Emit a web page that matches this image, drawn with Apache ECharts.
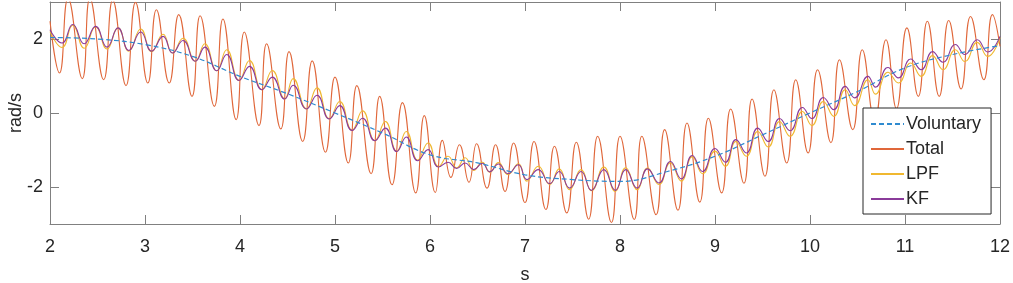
<!DOCTYPE html>
<html>
<head>
<meta charset="utf-8">
<script src="https://cdn.jsdelivr.net/npm/echarts@6/dist/echarts.min.js"></script>
<style>
html,body{margin:0;padding:0;background:#fff;}
#chart{width:1013px;height:283px;}
</style>
</head>
<body>
<div id="chart"></div>
<script>
// ---- data ----
const xTicks = [2, 3, 4, 5, 6, 7, 8, 9, 10, 11, 12];
const yTicks = [-2, 0, 2];
const seriesNames = ['Voluntary', 'Total', 'LPF', 'KF'];

const voluntary = [
  [2.0, 2.04], [2.5, 2.0], [3.0, 1.85], [3.5, 1.53], [4.0, 0.99], [4.5, 0.52],
  [5.0, 0.0], [5.5, -0.54], [6.0, -1.13], [6.5, -1.35], [7.0, -1.67], [7.5, -1.80],
  [8.0, -1.85], [8.5, -1.58], [9.0, -1.17], [9.5, -0.59], [10.0, 0.0], [10.5, 0.58],
  [11.0, 1.22], [11.5, 1.58], [12.0, 1.82]
];

const total = [
  [2.0, 2.48], [2.10, 1.08], [2.19, 3.1], [2.34, 0.93], [2.42, 3.1], [2.565, 0.90],
  [2.66, 3.05], [2.80, 0.74], [2.90, 2.99], [3.03, 0.81], [3.12, 2.79], [3.255, 0.81],
  [3.355, 2.66], [3.495, 0.45], [3.58, 2.63], [3.73, 0.18], [3.82, 2.54], [3.96, -0.18],
  [4.045, 2.19], [4.20, -0.34], [4.28, 1.87], [4.43, -0.43], [4.516, 1.66], [4.66, -0.77],
  [4.76, 1.41], [4.90, -1.06], [5.0, 0.97], [5.14, -1.35], [5.23, 0.74], [5.38, -1.64],
  [5.47, 0.45], [5.60, -1.94], [5.71, 0.28], [5.85, -2.16], [5.94, -0.07], [6.056, -2.15],
  [6.13, -0.74], [6.22, -1.74], [6.31, -0.86], [6.41, -1.87], [6.49, -0.83], [6.60, -2.03],
  [6.69, -0.86], [6.79, -2.12], [6.88, -0.81], [7.0, -2.42], [7.095, -0.77], [7.22, -2.61],
  [7.31, -0.90], [7.44, -2.70], [7.54, -0.79], [7.67, -2.87], [7.765, -0.63], [7.91, -2.96],
  [8.0, -0.63], [8.15, -2.88], [8.23, -0.63], [8.38, -2.75], [8.47, -0.45], [8.61, -2.63],
  [8.705, -0.27], [8.84, -2.41], [8.93, -0.14], [9.07, -2.16], [9.165, 0.11], [9.305, -1.90],
  [9.39, 0.38], [9.526, -1.71], [9.62, 0.63], [9.755, -1.35], [9.85, 0.90], [9.98, -1.08],
  [10.08, 1.17], [10.22, -0.80], [10.31, 1.44], [10.45, -0.45], [10.55, 1.71], [10.68, -0.20],
  [10.80, 1.98], [10.91, 0.12], [11.02, 2.30], [11.14, 0.45], [11.235, 2.48], [11.36, 0.45],
  [11.46, 2.50], [11.59, 0.65], [11.69, 2.61], [11.83, 0.90], [11.92, 2.66], [12.0, 1.80]
];

const lpf = [
  [2.0, 2.2], [2.126, 1.77], [2.24, 2.37], [2.36, 1.75], [2.48, 2.33], [2.60, 1.73],
  [2.716, 2.30], [2.83, 1.67], [2.955, 2.27], [3.07, 1.66], [3.19, 2.13], [3.29, 1.62],
  [3.40, 2.02], [3.53, 1.40], [3.63, 1.87], [3.755, 1.14], [3.86, 1.71], [3.99, 0.88],
  [4.10, 1.42], [4.23, 0.63], [4.34, 1.15], [4.47, 0.38], [4.56, 0.93], [4.70, 0.11],
  [4.81, 0.68], [4.94, -0.16], [5.05, 0.31], [5.18, -0.47], [5.29, 0.06], [5.42, -0.75],
  [5.53, -0.23], [5.65, -1.04], [5.75, -0.50], [5.87, -1.27], [5.98, -0.81], [6.09, -1.45],
  [6.19, -1.17], [6.28, -1.48], [6.37, -1.21], [6.46, -1.55], [6.55, -1.33], [6.63, -1.60],
  [6.72, -1.34], [6.82, -1.66], [6.93, -1.37], [7.02, -1.84], [7.14, -1.44], [7.26, -1.93],
  [7.36, -1.51], [7.47, -2.07], [7.59, -1.53], [7.70, -2.10], [7.83, -1.46], [7.95, -2.12],
  [8.06, -1.48], [8.18, -2.07], [8.29, -1.49], [8.41, -1.93], [8.53, -1.34], [8.645, -1.84],
  [8.76, -1.18], [8.87, -1.64], [9.00, -1.03], [9.11, -1.44], [9.22, -0.77], [9.33, -1.17],
  [9.45, -0.50], [9.56, -0.92], [9.68, -0.23], [9.79, -0.63], [9.92, 0.04], [10.02, -0.34],
  [10.14, 0.31], [10.25, -0.09], [10.37, 0.63], [10.47, 0.20], [10.61, 0.90], [10.69, 0.51],
  [10.82, 1.10], [10.93, 0.81], [11.06, 1.35], [11.17, 0.99], [11.29, 1.55], [11.40, 1.17],
  [11.53, 1.71], [11.63, 1.39], [11.76, 1.91], [11.87, 1.53], [12.0, 2.04]
];

const kf = [
  [2.0, 2.25], [2.126, 1.89], [2.24, 2.39], [2.36, 1.87], [2.48, 2.34], [2.60, 1.78],
  [2.716, 2.30], [2.83, 1.69], [2.955, 2.19], [3.07, 1.67], [3.19, 2.07], [3.29, 1.62],
  [3.40, 1.96], [3.53, 1.40], [3.63, 1.78], [3.755, 1.14], [3.86, 1.58], [3.99, 0.88],
  [4.10, 1.26], [4.23, 0.63], [4.34, 0.97], [4.47, 0.38], [4.56, 0.75], [4.70, 0.11],
  [4.81, 0.48], [4.94, -0.16], [5.05, 0.20], [5.18, -0.47], [5.29, -0.14], [5.42, -0.75],
  [5.53, -0.41], [5.65, -1.04], [5.75, -0.65], [5.87, -1.29], [5.98, -0.99], [6.09, -1.46],
  [6.19, -1.33], [6.28, -1.50], [6.37, -1.35], [6.46, -1.53], [6.55, -1.36], [6.63, -1.59],
  [6.72, -1.38], [6.82, -1.64], [6.93, -1.40], [7.02, -1.80], [7.14, -1.53], [7.26, -1.91],
  [7.36, -1.58], [7.47, -2.03], [7.59, -1.58], [7.70, -2.09], [7.83, -1.53], [7.95, -2.09],
  [8.06, -1.53], [8.18, -2.03], [8.29, -1.51], [8.41, -1.89], [8.53, -1.31], [8.645, -1.78],
  [8.76, -1.15], [8.87, -1.58], [9.00, -0.96], [9.11, -1.33], [9.22, -0.72], [9.33, -1.08],
  [9.45, -0.41], [9.56, -0.77], [9.68, -0.15], [9.79, -0.48], [9.92, 0.15], [10.02, -0.15],
  [10.14, 0.42], [10.25, 0.09], [10.37, 0.72], [10.47, 0.41], [10.61, 0.99], [10.69, 0.70],
  [10.82, 1.23], [10.93, 0.95], [11.06, 1.46], [11.17, 1.17], [11.29, 1.66], [11.40, 1.37],
  [11.53, 1.85], [11.63, 1.58], [11.76, 1.98], [11.87, 1.65], [12.0, 2.07]
];

// ---- chart ----
const FONT = 'Liberation Sans, Arial, sans-serif';
const AXIS_COLOR = '#808080';
const TEXT_COLOR = '#262626';

const chart = echarts.init(document.getElementById('chart'), null, {renderer: 'canvas'});

function xAxisDef(pos, showLabel) {
  return {
    type: 'value', position: pos, min: 2, max: 12, interval: 1,
    name: showLabel ? 's' : '', nameLocation: 'middle', nameGap: 42, nameMoveOverlap: false,
    nameTextStyle: {fontFamily: FONT, fontSize: 18, color: TEXT_COLOR},
    axisLine: {show: true, onZero: false, lineStyle: {color: AXIS_COLOR, width: 1}},
    axisTick: {show: true, inside: true, length: 9, customValues: xTicks, lineStyle: {color: AXIS_COLOR}},
    axisLabel: {show: showLabel, customValues: xTicks, fontFamily: FONT, fontSize: 18, color: TEXT_COLOR, margin: 14},
    splitLine: {show: false}
  };
}
function yAxisDef(pos, showLabel) {
  return {
    type: 'value', position: pos, min: -3, max: 3, interval: 1,
    name: showLabel ? 'rad/s' : '', nameLocation: 'middle', nameGap: 25, nameRotate: 90, nameMoveOverlap: false,
    nameTextStyle: {fontFamily: FONT, fontSize: 18, color: TEXT_COLOR},
    axisLine: {show: true, onZero: false, lineStyle: {color: AXIS_COLOR, width: 1}},
    axisTick: {show: true, inside: true, length: 9, customValues: yTicks, lineStyle: {color: AXIS_COLOR}},
    axisLabel: {show: showLabel, customValues: yTicks, fontFamily: FONT, fontSize: 18, color: TEXT_COLOR, margin: 7},
    splitLine: {show: false}
  };
}

const option = {
  animation: false,
  backgroundColor: '#ffffff',
  grid: {left: 50, right: 13, top: 2, bottom: 59, containLabel: false, outerBoundsMode: 'none'},
  xAxis: [xAxisDef('bottom', true), xAxisDef('top', false)],
  yAxis: [yAxisDef('left', true), yAxisDef('right', false)],
  legend: {
    orient: 'vertical', left: 863, top: 108,
    width: 127,
    padding: [7, 10, 6, 7],
    itemWidth: 33, itemHeight: 18, itemGap: 7,
    backgroundColor: '#ffffff',
    borderColor: '#262626', borderWidth: 1,
    textStyle: {fontFamily: FONT, fontSize: 18, color: TEXT_COLOR, padding: [0, 0, 0, -3]},
    itemStyle: {color: 'rgba(0,0,0,0)', borderWidth: 0},
    data: seriesNames,
    z: 10
  },
  series: [
    {name: seriesNames[0], type: 'line', data: voluntary, smooth: 0.4, symbol: 'none', z: 5,
     lineStyle: {color: '#2f8bd0', width: 1.2, type: [5, 3]}, itemStyle: {color: '#2f8bd0'}},
    {name: seriesNames[1], type: 'line', data: total, smooth: 0.5, symbol: 'none', z: 2,
     lineStyle: {color: '#e0673a', width: 1.1}, itemStyle: {color: '#e0673a'}},
    {name: seriesNames[2], type: 'line', data: lpf, smooth: 0.5, symbol: 'none', z: 3,
     lineStyle: {color: '#f0b830', width: 1.1}, itemStyle: {color: '#f0b830'}},
    {name: seriesNames[3], type: 'line', data: kf, smooth: 0.5, symbol: 'none', z: 4,
     lineStyle: {color: '#8a3b9a', width: 1.1}, itemStyle: {color: '#8a3b9a'}}
  ]
};
chart.setOption(option);
</script>
</body>
</html>
